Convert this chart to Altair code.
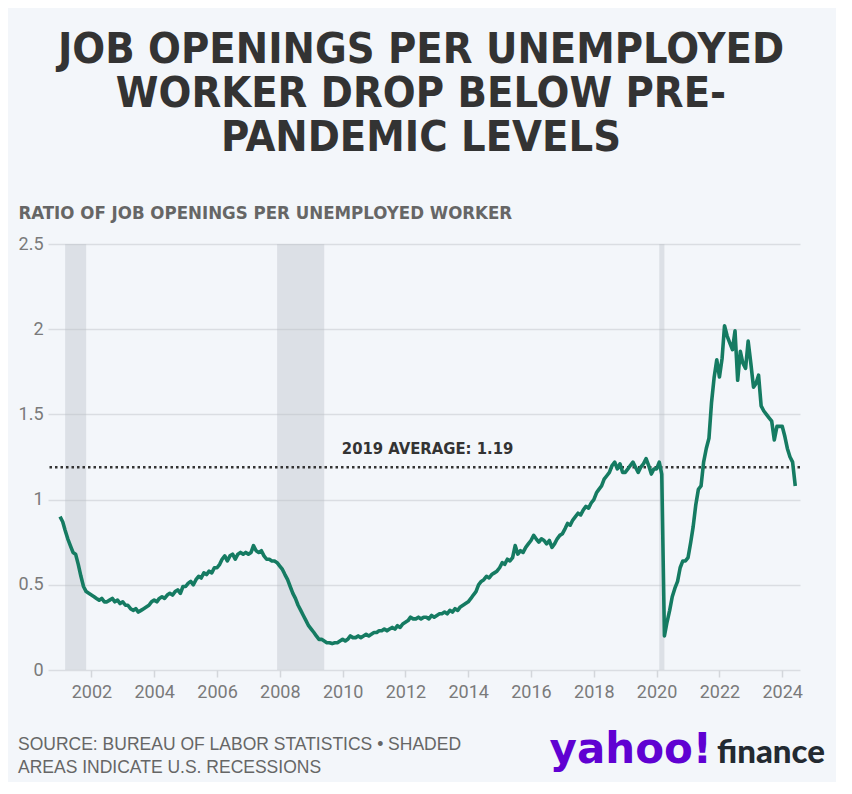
import altair as alt
import pandas as pd

# ---------------- text ----------------
TITLE_LINES = ["JOB OPENINGS PER UNEMPLOYED", "WORKER DROP BELOW PRE-", "PANDEMIC LEVELS"]
Y_TITLE = "RATIO OF JOB OPENINGS PER UNEMPLOYED WORKER"
SOURCE_LINES = ["SOURCE: BUREAU OF LABOR STATISTICS \u2022 SHADED", "AREAS INDICATE U.S. RECESSIONS"]
AVG_LABEL = "2019 AVERAGE: 1.19"
AVG_VALUE = 1.19
LOGO_LEFT = "yahoo!"
LOGO_RIGHT = "finance"

# ---------------- data (monthly ratio, Jan 2001 - Jun 2024) ----------------
V2001 = [0.90, 0.87, 0.82, 0.77, 0.73, 0.69, 0.68, 0.62, 0.55, 0.49, 0.46, 0.45]
V2002 = [0.44, 0.43, 0.42, 0.41, 0.42, 0.40, 0.40, 0.41, 0.42, 0.40, 0.41, 0.39]
V2003 = [0.40, 0.38, 0.38, 0.36, 0.35, 0.36, 0.34, 0.35, 0.36, 0.37, 0.38, 0.40]
V2004 = [0.41, 0.40, 0.42, 0.43, 0.42, 0.44, 0.45, 0.44, 0.46, 0.47, 0.45, 0.49]
V2005 = [0.49, 0.51, 0.52, 0.50, 0.53, 0.55, 0.54, 0.57, 0.56, 0.58, 0.57, 0.60]
V2006 = [0.60, 0.62, 0.65, 0.67, 0.64, 0.67, 0.68, 0.65, 0.68, 0.69, 0.68, 0.69]
V2007 = [0.68, 0.69, 0.73, 0.70, 0.69, 0.70, 0.67, 0.65, 0.65, 0.64, 0.64, 0.63]
V2008 = [0.61, 0.59, 0.56, 0.53, 0.49, 0.45, 0.42, 0.38, 0.35, 0.32, 0.29, 0.26]
V2009 = [0.24, 0.22, 0.20, 0.18, 0.18, 0.17, 0.16, 0.16, 0.155, 0.16, 0.16, 0.17]
V2010 = [0.18, 0.17, 0.18, 0.20, 0.19, 0.19, 0.20, 0.19, 0.20, 0.21, 0.20, 0.21]
V2011 = [0.22, 0.22, 0.23, 0.23, 0.24, 0.23, 0.24, 0.25, 0.24, 0.26, 0.25, 0.27]
V2012 = [0.28, 0.29, 0.31, 0.30, 0.30, 0.31, 0.30, 0.31, 0.31, 0.30, 0.32, 0.31]
V2013 = [0.32, 0.33, 0.33, 0.34, 0.33, 0.35, 0.34, 0.36, 0.35, 0.37, 0.38, 0.39]
V2014 = [0.40, 0.42, 0.44, 0.46, 0.50, 0.52, 0.53, 0.55, 0.54, 0.56, 0.57, 0.58]
V2015 = [0.60, 0.63, 0.62, 0.65, 0.64, 0.66, 0.73, 0.68, 0.70, 0.69, 0.72, 0.74]
V2016 = [0.76, 0.79, 0.77, 0.75, 0.77, 0.76, 0.74, 0.76, 0.72, 0.74, 0.77, 0.79]
V2017 = [0.80, 0.83, 0.86, 0.85, 0.88, 0.90, 0.92, 0.91, 0.94, 0.96, 0.95, 0.98]
V2018 = [1.00, 1.04, 1.06, 1.08, 1.12, 1.14, 1.16, 1.20, 1.22, 1.18, 1.21, 1.16]
V2019 = [1.16, 1.18, 1.20, 1.22, 1.19, 1.16, 1.19, 1.21, 1.24, 1.20, 1.15, 1.18]
V2020 = [1.18, 1.22, 1.15, 0.20, 0.28, 0.35, 0.43, 0.48, 0.52, 0.60, 0.64, 0.64]
V2021 = [0.66, 0.75, 0.84, 0.97, 1.06, 1.08, 1.22, 1.30, 1.36, 1.57, 1.72, 1.82]
V2022 = [1.72, 1.83, 2.02, 1.96, 1.92, 1.88, 1.99, 1.70, 1.87, 1.80, 1.77, 1.93]
V2023 = [1.80, 1.66, 1.68, 1.73, 1.55, 1.52, 1.50, 1.48, 1.46, 1.35, 1.43, 1.43]
V2024 = [1.43, 1.37, 1.30, 1.25, 1.22, 1.08]

RECESSION_START = ["2001-03-01", "2007-12-01", "2020-02-01"]
RECESSION_END = ["2001-11-01", "2009-06-01", "2020-04-01"]

Y_TICKS = [0, 0.5, 1, 1.5, 2, 2.5]
X_TICK_YEARS = list(range(2002, 2025, 2))

# ---------------- tables ----------------
values = (V2001 + V2002 + V2003 + V2004 + V2005 + V2006 + V2007 + V2008 + V2009 + V2010
          + V2011 + V2012 + V2013 + V2014 + V2015 + V2016 + V2017 + V2018 + V2019
          + V2020 + V2021 + V2022 + V2023 + V2024)
line_df = pd.DataFrame({
    "date": pd.date_range("2001-01-01", periods=len(values), freq="MS"),
    "ratio": values,
})
rec_df = pd.DataFrame({"start": pd.to_datetime(RECESSION_START), "end": pd.to_datetime(RECESSION_END)})
avg_df = pd.DataFrame({"ratio": [AVG_VALUE], "label": [AVG_LABEL]})
one = pd.DataFrame({"k": [0]})

# ---------------- style ----------------
BG = "#f3f6fa"
COND = "DejaVu Sans Condensed, Liberation Sans Narrow, Roboto Condensed, sans-serif"
SANS = "Roboto, Inter, sans-serif"
SOURCE_FONT = "Liberation Sans, Arial, sans-serif"
GREEN = "#157b62"

X_SCALE = alt.Scale(domain=[alt.DateTime(year=2000, month=8, date=14),
                            alt.DateTime(year=2024, month=7, date=26)])
Y_SCALE = alt.Scale(domain=[0, 2.5], nice=False)

X_AXIS = alt.Axis(
    values=[alt.DateTime(year=y, month=1, date=1) for y in X_TICK_YEARS],
    format="%Y", title=None, grid=False, domain=False,
    labelFont=SANS, labelFontSize=18, labelColor="#7a7a7a", labelPadding=6,
    tickColor="#d3d6db", tickWidth=1.5, tickSize=7, labelFlush=False,
)
Y_AXIS = alt.Axis(
    values=Y_TICKS, format=".1~f", title=Y_TITLE,
    titleAngle=0, titleAlign="left", titleBaseline="middle", titleX=-30, titleY=-32,
    titleFont=COND, titleFontSize=18.5, titleFontWeight="bold", titleColor="#666666",
    labelFont=SANS, labelFontSize=18, labelColor="#7a7a7a", labelPadding=5,
    ticks=False, domain=False, grid=True, gridColor="#dadde2", gridWidth=1.5,
)


def xenc(field):
    return alt.X(field, scale=X_SCALE, axis=X_AXIS)


def yenc(field):
    return alt.Y(field, scale=Y_SCALE, axis=Y_AXIS)


recessions = alt.Chart(rec_df).mark_rect(color="#b9bdc6", opacity=0.38).encode(
    x=xenc("start:T"), x2="end:T"
)

avg_rule = alt.Chart(avg_df).mark_rule(
    color="#333333", strokeDash=[2.5, 3], strokeWidth=2.5
).encode(y=yenc("ratio:Q"))

line = alt.Chart(line_df).mark_line(color=GREEN, strokeWidth=3.6, strokeJoin="round").encode(
    x=xenc("date:T"), y=yenc("ratio:Q")
)

avg_text = alt.Chart(avg_df).mark_text(
    font=COND, fontSize=16.5, fontWeight="bold", color="#333333",
    align="center", baseline="middle", dy=-18,
).encode(
    x=alt.datum(alt.DateTime(year=2012, month=9, date=15)),
    y=yenc("ratio:Q"),
    text="label:N",
)

title = alt.Chart(one).mark_text(
    text=TITLE_LINES, font=COND, fontSize=43, fontWeight="bold", color="#333333",
    align="center", baseline="middle", lineHeight=44,
).encode(x=alt.value(373), y=alt.value(-194))

source = alt.Chart(one).mark_text(
    text=SOURCE_LINES, font=SOURCE_FONT, fontSize=17.5, color="#666666",
    align="left", baseline="middle", lineHeight=23,
).encode(x=alt.value(-30), y=alt.value(501))

logo_left = alt.Chart(one).mark_text(
    text=LOGO_LEFT, font="DejaVu Sans, sans-serif", fontSize=42, fontWeight="bold",
    color="#6001d2", align="right", baseline="alphabetic",
).encode(x=alt.value(664), y=alt.value(519))

logo_right = alt.Chart(one).mark_text(
    text=LOGO_RIGHT, font="Lato, Inter, sans-serif", fontSize=33, fontWeight=900,
    color="#232a31", align="left", baseline="alphabetic",
).encode(x=alt.value(669), y=alt.value(519))

chart = alt.layer(
    recessions, avg_rule, line, avg_text, title, source, logo_left, logo_right
).properties(
    width=752, height=426,
    padding={"left": 40, "top": 236, "right": 36, "bottom": 112},
    autosize=alt.AutoSizeParams(type="none"),
    background=BG,
).configure_view(stroke=None)

chart.save("out.html", embed_options={"renderer": "svg", "actions": False})
